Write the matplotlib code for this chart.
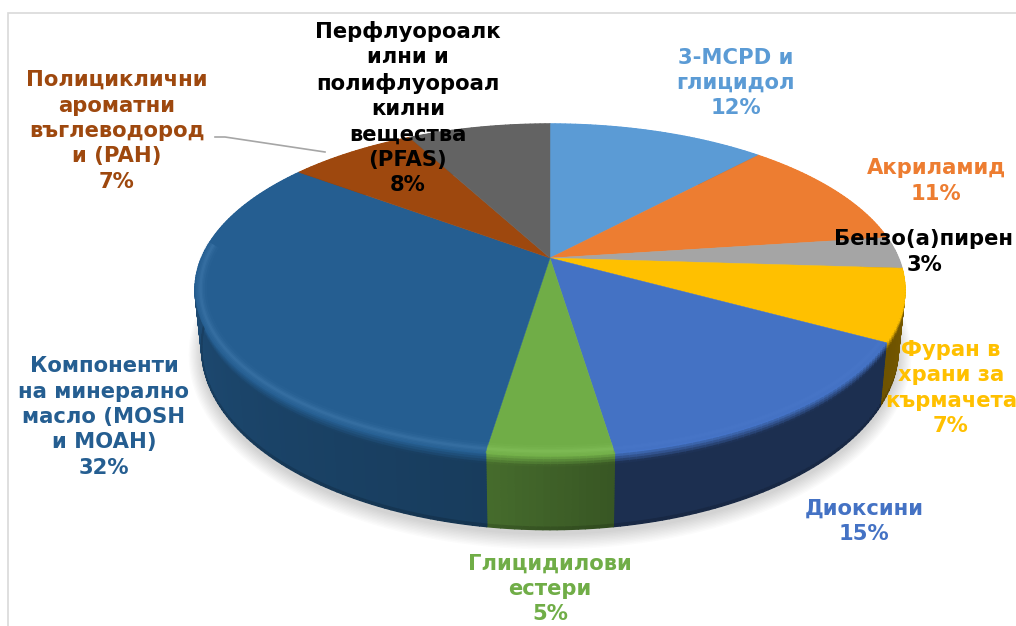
import matplotlib
matplotlib.use('Agg')
import matplotlib.pyplot as plt
from matplotlib.collections import PolyCollection
from matplotlib.patches import Rectangle
import numpy as np

# Data, starting at 12 o'clock and going clockwise
labels = ['3-MCPD и\nглицидол', 'Акриламид', 'Бензо(а)пирен', 'Фуран в\nхрани за\nкърмачета',
          'Диоксини', 'Глицидилови\nестери', 'Компоненти\nна минерално\nмасло (MOSH\nи MOAH)',
          'Полициклични\nароматни\nвъглеводород\nи (PAH)',
          'Перфлуороалк\nилни и\nполифлуороал\nкилни\nвещества\n(PFAS)']
percents = [12, 11, 3, 7, 15, 5, 32, 7, 8]
shares = [11.9, 11.0, 3.1, 7.0, 14.6, 4.8, 32.8, 7.0, 7.8]

colors = ['#5B9BD5', '#ED7D31', '#A5A5A5', '#FFC000', '#4472C4', '#70AD47', '#255E91', '#9E480E', '#636363']
text_colors = ['#5B9BD5', '#ED7D31', 'black', '#FFC000', '#4472C4', '#70AD47', '#255E91', '#9E480E', 'black']
wall_start = [0.6, 0.6, 0.6, 0.48, 0.41, 0.5, 0.64, 0.6, 0.6]
wall_end = [0.6, 0.6, 0.6, 0.43, 0.41, 0.62, 0.88, 0.6, 0.6]
bevel = [0, 0, 0, 0, 0.2, 0.7, 0.9, 0, 0]
text_pos = [(736, 83), (936, 181), (924, 252), (951, 388), (864, 521), (550, 589),
            (104, 417), (117, 131), (408, 108)]

# Projection of the disc onto the image, in pixels
cx, cy = 550, 258
p = 0.19
top_a, top_b = 348.5, 159.5
bot_a, bot_b, bot_cy = 342, 174.7, 314


def project(theta, a, b, y0, r=1.0):
    # theta in degrees, clockwise from 12 o'clock
    x = r * np.sin(np.radians(theta))
    y = r * np.cos(np.radians(theta))
    w = 1 + p * y
    return cx + a * x / w, y0 - b * y / w


fig = plt.figure(figsize=(10.16, 6.26), dpi=100)
ax = fig.add_axes([0, 0, 1, 1])
ax.set_xlim(0, 1016)
ax.set_ylim(626, 0)
ax.axis('off')

# Chart frame
ax.add_patch(Rectangle((8, 13), 1100, 700, fc='white', ec='#D9D9D9', lw=1.2, zorder=0))

edges = np.concatenate([[0], np.cumsum(shares)]) / np.sum(shares) * 360

# Soft shadow under the disc
t = np.linspace(0, 360, 361)
for grow in np.arange(16, 0, -1.5):
    sx, sy = project(t, bot_a + grow * 0.8, bot_b + grow * 0.8, bot_cy + 4)
    ax.fill(sx, sy, color='black', alpha=0.015, lw=0, zorder=1)

# Side wall, built from small quads, fading from face colour to the dark wall
levels = np.linspace(0, 1, 31)
for i in range(len(shares)):
    base = np.array(matplotlib.colors.to_rgb(colors[i]))
    ang = np.linspace(edges[i], edges[i + 1], max(int(edges[i + 1] - edges[i]) + 2, 3))
    tx, ty = project(ang, top_a, top_b, cy)
    bx, by = project(ang, bot_a, bot_b, bot_cy)
    quads, quad_cols = [], []
    for j in range(len(ang) - 1):
        along = j / max(len(ang) - 2, 1)
        shade = wall_start[i] + (wall_end[i] - wall_start[i]) * along
        for k in range(len(levels) - 1):
            l0, l1 = levels[k], levels[k + 1]
            fade = max(0, 1 - l0 / 0.14)
            foot = 0.85 if l0 > 0.96 else 1.0
            quads.append([(tx[j] + (bx[j] - tx[j]) * l0, ty[j] + (by[j] - ty[j]) * l0),
                          (tx[j + 1] + (bx[j + 1] - tx[j + 1]) * l0, ty[j + 1] + (by[j + 1] - ty[j + 1]) * l0),
                          (tx[j + 1] + (bx[j + 1] - tx[j + 1]) * l1, ty[j + 1] + (by[j + 1] - ty[j + 1]) * l1),
                          (tx[j] + (bx[j] - tx[j]) * l1, ty[j] + (by[j] - ty[j]) * l1)])
            quad_cols.append(np.clip(base * (shade + (1.02 - shade) * fade) * foot, 0, 1))
    ax.add_collection(PolyCollection(quads, facecolors=quad_cols, edgecolors=quad_cols,
                                     linewidths=1.0, zorder=2))

# Top face
for i in range(len(shares)):
    ang = np.linspace(edges[i], edges[i + 1], 120)
    x, y = project(ang, top_a, top_b, cy)
    ax.fill(np.r_[cx, x], np.r_[cy, y], color=colors[i], lw=0.3, zorder=3)

# Bevel along the front rim, a few wide translucent strokes
for i in range(len(shares)):
    if bevel[i] == 0:
        continue
    ang = np.linspace(edges[i], edges[i + 1], 120)
    keep = np.cos(np.radians(ang)) < 0.1
    base = np.array(matplotlib.colors.to_rgb(colors[i]))
    light = np.clip(base + 0.12, 0, 1)
    x, y = project(ang[keep], top_a, top_b, cy, 0.985)
    for lw, alpha in [(9, 0.1), (6, 0.16), (3.5, 0.22), (1.8, 0.28)]:
        ax.plot(x, y, color=light, lw=lw, alpha=alpha * bevel[i], solid_capstyle='butt', zorder=4)

# Leader line
ax.plot([215, 225, 325], [137, 137, 152], color='#A6A6A6', lw=1.2, zorder=5)

# Data labels
for i in range(len(labels)):
    ax.text(text_pos[i][0], text_pos[i][1], '%s\n%d%%' % (labels[i], percents[i]),
            color=text_colors[i], ha='center', va='center', ma='center',
            fontsize=15.2, fontweight='bold', family='DejaVu Sans', linespacing=1.34, zorder=6)

plt.savefig('out.png', dpi=100)
